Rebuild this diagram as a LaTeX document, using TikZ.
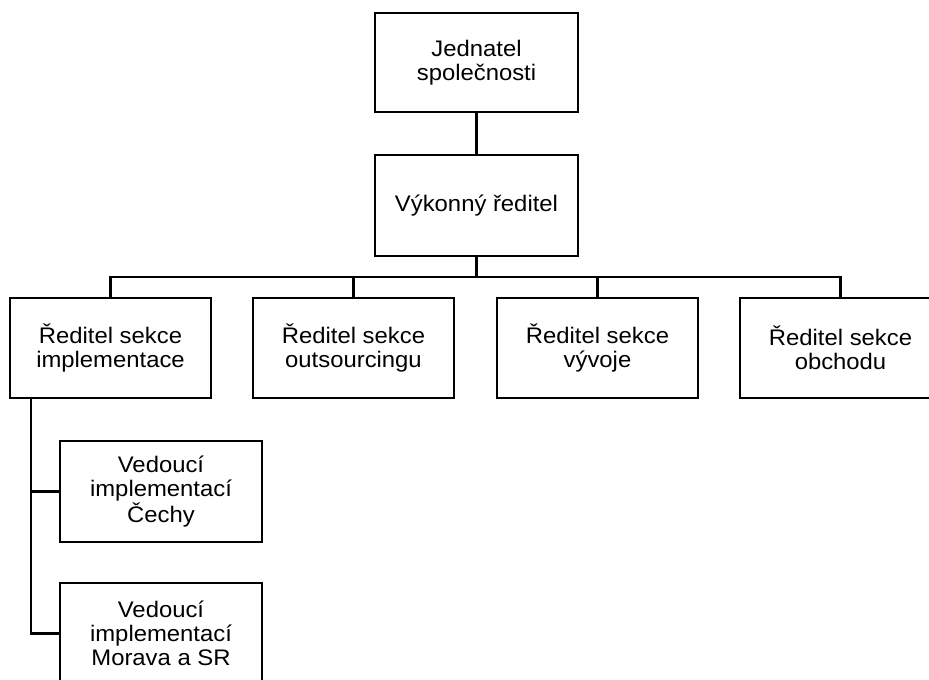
\documentclass[tikz,border=0pt]{standalone}
\usepackage{fontspec}
\setmainfont{Liberation Sans}[FakeStretch=1.06]
\begin{document}
\begin{tikzpicture}[x=1pt,y=-1pt,
  box/.style={draw=black,line width=2.6pt,fill=white,minimum width=201pt,minimum height=100pt,inner sep=0pt,align=center,font=\fontsize{22.5pt}{24pt}\selectfont},
  conn/.style={draw=black,line width=2.2pt}]
\useasboundingbox (0,0) rectangle (929,680);
\clip (0,0) rectangle (929,680);
\fill[white] (0,0) rectangle (929,680);
\node[box,minimum width=203pt,minimum height=99pt] (top) at (476.5,62.5) {Jednatel\\společnosti};
\node[box,minimum width=203pt,minimum height=101pt] (vyk) at (476.5,205.5) {Výkonný ředitel};
\node[box] (b1) at (110.5,348) {Ředitel sekce\\implementace};
\node[box] (b2) at (353.5,348) {Ředitel sekce\\outsourcingu};
\node[box] (b3) at (597.5,348) {Ředitel sekce\\vývoje};
\node[box] (b4) at (840.5,348) {Ředitel sekce\\obchodu};
\node[box,minimum width=202pt,minimum height=101pt] (b5) at (161,491.5) {Vedoucí\\implementací\\Čechy};
\node[box,minimum width=202pt,minimum height=101pt] (b6) at (161,633.5) {Vedoucí\\implementací\\Morava a SR};
\coordinate (bar) at (476.5,277);
\coordinate (trunk) at (31,398);
\draw[conn] (top.south) -- (vyk.north);
\draw[conn] (vyk.south) -- (bar);
\draw[conn] (bar) -| (b1.north);
\draw[conn] (bar) -| (b2.north);
\draw[conn] (bar) -| (b3.north);
\draw[conn] (bar) -| (b4.north);
\draw[conn] (trunk) |- (b5.west);
\draw[conn] (trunk) |- (b6.west);
\end{tikzpicture}
\end{document}
